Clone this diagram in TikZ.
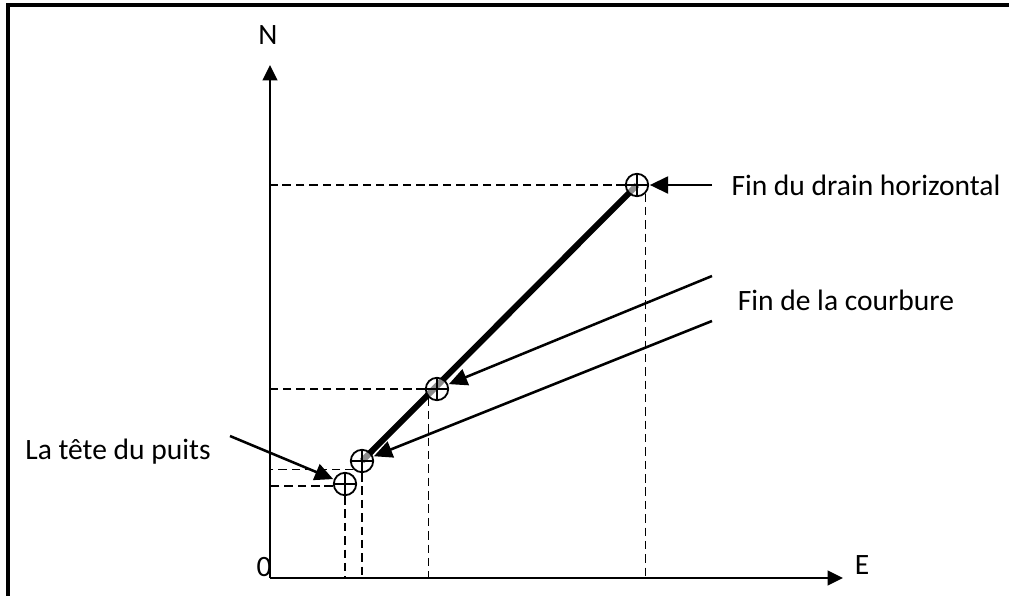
\documentclass[tikz,border=0pt]{standalone}
\usepackage{fontspec}
\setmainfont{Carlito}
\usetikzlibrary{arrows.meta}

\begin{document}
\begin{tikzpicture}[x=0.025cm, y=-0.025cm,
	axe/.style={line width=1.7pt, -{Triangle[length=11pt, width=10.5pt]}},
	guide/.style={line width=1.3pt, dash pattern=on 6pt off 3.5pt},
	fleche/.style={line width=1.8pt, -{Triangle[length=13pt, width=12pt]}, shorten >=0.5pt},
	puits/.style={circle, draw, line width=1.3pt, fill=white, fill opacity=0.55, text opacity=1, minimum size=0.56cm, inner sep=0pt,
		path picture={\draw[line width=1.3pt] (path picture bounding box.north) -- (path picture bounding box.south) (path picture bounding box.west) -- (path picture bounding box.east);}},
	label/.style={font=\fontsize{21}{25}\selectfont, inner sep=0pt}]
	\useasboundingbox (0, 0) rectangle (1009, 595);
	% Frame:
	\draw[line width=2.2pt] (8, 598) -- (8, 5) -- (1012, 5);
	% Axes:
	\coordinate (O) at (270, 578);
	\coordinate (Ntip) at (270, 65);
	\coordinate (Etip) at (843, 578);
	\draw[axe] (O) -- (Ntip);
	\draw[axe] (O) -- (Etip);
	\node[label] (N) at (268, 35) {N};
	\node[label] (E) at (862, 565) {E};
	\node[label] (zero) at (264, 567) {0};
	% Drain:
	\coordinate (c2) at (362, 461);
	\coordinate (c4) at (637, 185);
	\draw[line width=4.3pt] (c2) -- (c4);
	\node[puits] (P1) at (345, 484) {};
	\node[puits] (P2) at (c2) {};
	\node[puits] (P3) at (437, 389) {};
	\node[puits] (P4) at (c4) {};
	% Dashed guides:
	\draw[guide] (P1.west |- 0, 486) -- (O |- 0, 486);
	\draw[guide] (P1.south) -- (P1.south |- O);
	\draw[guide] (P2.south west) -- (P2.south west -| O);
	\draw[guide] (P2.south) -- (P2.south |- O);
	\draw[guide] (P3.west) -- (P3.west -| O);
	\draw[guide] (P3.south west) -- (P3.south west |- O);
	\draw[guide] (P4.west) -- (P4.west -| O);
	\draw[guide] (P4.south east) -- (P4.south east |- O);
	% Labels and arrows:
	\node[label] (tete) at (118, 452) {La tête du puits};
	\node[label] (drain) at (866, 185) {Fin du drain horizontal};
	\node[label] (courbure) at (846, 300) {Fin de la courbure};
	\coordinate (a1) at (230, 436);
	\coordinate (a4) at (712, 185);
	\coordinate (a3) at (712, 276);
	\coordinate (a2) at (712, 321);
	\draw[fleche] (a1) -- (P1);
	\draw[fleche] (a4) -- (P4);
	\draw[fleche] (a3) -- (P3);
	\draw[fleche] (a2) -- (P2);
\end{tikzpicture}
\end{document}
